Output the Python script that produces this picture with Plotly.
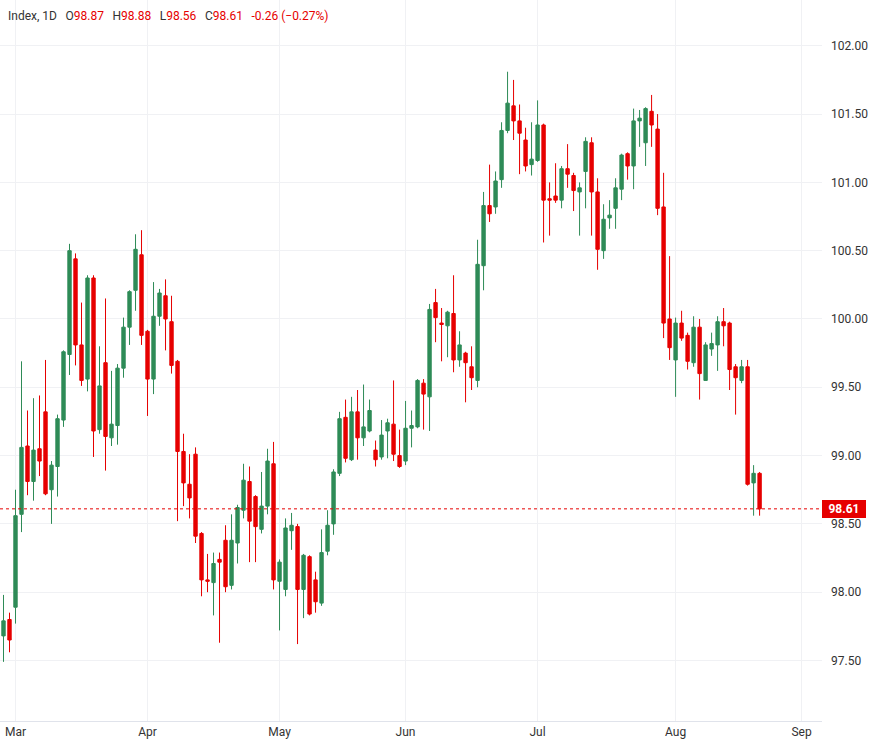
import pandas as pd
import plotly.graph_objects as go

# ---- data ----
opens = [97.68, 97.80, 97.89, 98.57, 99.07, 98.81, 99.05, 99.32, 98.75, 98.92,
         99.26, 99.74, 100.44, 99.81, 99.56, 100.30, 99.19, 99.68, 99.13, 99.22,
         99.64, 99.94, 100.21, 100.47, 99.91, 99.56, 100.02, 100.17, 99.98, 99.69,
         99.03, 98.79, 99.01, 98.43, 98.09, 98.07, 98.24, 98.38, 98.05, 98.36,
         98.60, 98.81, 98.70, 98.46, 98.63, 98.94, 98.08, 98.02, 98.45, 98.48,
         98.02, 98.26, 98.09, 97.92, 98.30, 98.50, 98.87, 99.28, 98.97, 99.32,
         99.13, 99.18, 99.04, 98.99, 99.18, 99.23, 99.00, 98.96, 99.20, 99.21,
         99.53, 99.43, 100.12, 99.97, 99.95, 100.04, 99.70, 99.75, 99.65, 99.55,
         100.39, 100.83, 100.82, 101.02, 101.38, 101.56, 101.45, 101.31, 101.13, 101.16,
         101.42, 100.88, 100.90, 100.87, 101.10, 101.05, 100.93, 101.08, 101.29, 100.93,
         100.50, 100.74, 100.81, 100.95, 101.21, 101.12, 101.45, 101.29, 101.52, 101.39,
         100.82, 100.00, 99.70, 99.97, 99.88, 99.68, 99.94, 99.55, 99.78, 99.81,
         99.98, 99.97, 99.65, 99.55, 99.65, 98.80, 98.87]
highs = [97.98, 97.85, 98.75, 99.69, 99.33, 99.42, 99.44, 99.70, 98.96, 99.30,
         99.77, 100.55, 100.48, 100.12, 100.32, 100.32, 99.80, 100.15, 99.62, 99.67,
         100.01, 100.21, 100.62, 100.65, 99.92, 100.27, 100.22, 100.29, 100.17, 99.70,
         99.16, 99.01, 99.06, 98.44, 98.28, 98.29, 98.29, 98.49, 98.57, 98.64,
         98.94, 98.92, 98.71, 98.88, 99.05, 99.10, 98.24, 98.54, 98.58, 98.50,
         98.28, 98.27, 98.15, 98.46, 98.60, 98.90, 99.32, 99.41, 99.43, 99.48,
         99.52, 99.41, 99.11, 99.26, 99.27, 99.55, 99.19, 99.40, 99.33, 99.56,
         99.56, 100.11, 100.22, 100.08, 100.06, 100.32, 99.91, 99.76, 99.80, 100.58,
         100.93, 101.13, 101.08, 101.44, 101.81, 101.75, 101.57, 101.40, 101.44, 101.60,
         101.43, 101.00, 101.14, 101.12, 101.28, 101.07, 101.00, 101.33, 101.33, 101.03,
         100.84, 100.87, 101.03, 101.21, 101.22, 101.54, 101.53, 101.55, 101.64, 101.50,
         101.07, 100.46, 100.01, 100.06, 99.90, 100.02, 100.00, 99.83, 99.90, 100.02,
         100.08, 99.98, 99.67, 99.70, 99.70, 98.93, 98.88]
lows = [97.49, 97.56, 97.77, 98.44, 98.71, 98.67, 98.85, 98.71, 98.50, 98.70,
        99.21, 99.59, 99.66, 99.51, 99.47, 98.99, 99.16, 98.89, 99.07, 99.08,
        99.57, 99.81, 100.06, 99.81, 99.29, 99.45, 99.95, 99.77, 99.60, 98.52,
        98.63, 98.54, 98.36, 97.97, 98.00, 97.83, 97.63, 98.00, 98.02, 98.21,
        98.54, 98.22, 98.22, 98.43, 98.57, 98.02, 97.72, 97.97, 98.31, 97.62,
        97.81, 97.83, 97.85, 97.90, 98.27, 98.42, 98.85, 98.95, 98.96, 98.97,
        99.07, 99.17, 98.92, 98.97, 98.98, 98.96, 98.91, 98.93, 99.06, 99.20,
        99.19, 99.18, 99.83, 99.69, 99.72, 99.61, 99.65, 99.39, 99.48, 99.50,
        100.21, 100.71, 100.77, 100.96, 101.36, 101.31, 101.06, 101.08, 101.05, 101.15,
        100.56, 100.61, 100.85, 100.81, 100.96, 100.79, 100.61, 100.81, 100.61, 100.36,
        100.44, 100.66, 100.66, 100.87, 101.02, 100.95, 101.26, 101.12, 101.26, 100.76,
        99.86, 99.70, 99.43, 99.84, 99.63, 99.65, 99.41, 99.55, 99.73, 99.62,
        99.80, 99.48, 99.30, 99.53, 98.78, 98.56, 98.56]
closes = [97.79, 97.65, 98.56, 99.06, 98.81, 99.04, 98.96, 98.72, 98.93, 99.27,
          99.76, 100.50, 99.81, 99.55, 100.30, 99.18, 99.51, 99.14, 99.23, 99.64,
          99.94, 100.20, 100.51, 99.88, 99.56, 100.02, 100.19, 100.00, 99.66, 99.03,
          98.80, 98.69, 98.41, 98.09, 98.08, 98.21, 98.22, 98.04, 98.38, 98.62,
          98.82, 98.52, 98.48, 98.63, 98.96, 98.09, 98.22, 98.47, 98.49, 98.02,
          98.27, 97.84, 97.93, 98.29, 98.49, 98.88, 99.27, 98.98, 99.32, 99.13,
          99.21, 99.33, 98.97, 99.15, 99.24, 99.01, 98.92, 99.20, 99.22, 99.55,
          99.45, 100.07, 100.01, 99.96, 100.05, 99.70, 99.81, 99.68, 99.57, 100.40,
          100.83, 100.77, 101.01, 101.38, 101.58, 101.45, 101.36, 101.12, 101.17, 101.42,
          100.87, 100.87, 100.87, 101.10, 101.06, 100.94, 100.96, 101.30, 100.93, 100.51,
          100.73, 100.76, 100.96, 101.20, 101.12, 101.45, 101.47, 101.54, 101.42, 100.81,
          99.97, 99.79, 99.97, 99.86, 99.69, 99.94, 99.60, 99.81, 99.82, 99.98,
          99.95, 99.63, 99.57, 99.65, 98.79, 98.87, 98.61]

first_session = "2026-02-26"
dates = pd.bdate_range(first_session, periods=len(closes))

month_ticks = ["2026-03-02", "2026-04-01", "2026-05-01", "2026-06-01",
               "2026-07-01", "2026-08-03", "2026-09-01"]
month_labels = ["Mar", "Apr", "May", "Jun", "Jul", "Aug", "Sep"]
price_ticks = [97.5, 98.0, 98.5, 99.0, 99.5, 100.0, 100.5, 101.0, 101.5, 102.0]

symbol_label = "Index, 1D"
change_text = "-0.26"
change_pct_text = "(\u22120.27%)"

GREEN = "#2E8B57"
RED = "#E60000"
FONT = "Roboto, 'Open Sans', sans-serif"

fig = go.Figure(go.Candlestick(
    x=dates, open=opens, high=highs, low=lows, close=closes,
    increasing=dict(line=dict(color=GREEN, width=1), fillcolor=GREEN),
    decreasing=dict(line=dict(color=RED, width=1), fillcolor=RED),
    whiskerwidth=0, hoverinfo="skip", showlegend=False,
))

last_o, last_h, last_l, last_c = opens[-1], highs[-1], lows[-1], closes[-1]

fig.add_hline(y=last_c, line=dict(color=RED, width=1, dash="dot"))

fig.add_annotation(
    xref="paper", yref="y", x=1, y=last_c, xanchor="left", yanchor="middle",
    text="<b>%.2f</b>" % last_c, showarrow=False,
    font=dict(family=FONT, size=12, color="white"),
    bgcolor=RED, bordercolor=RED, borderwidth=0, borderpad=2,
    width=40, align="center",
)

def red(s):
    return "<span style='color:%s'>%s</span>" % (RED, s)

gap = "\u2002\u2009"
header = (symbol_label + gap + "O" + red("%.2f" % last_o) + gap + "H" + red("%.2f" % last_h) +
          gap + "L" + red("%.2f" % last_l) + gap + "C" + red("%.2f" % last_c) + gap +
          red(change_text + " " + change_pct_text))
fig.add_annotation(
    xref="paper", yref="paper", x=0, y=1, xanchor="left", yanchor="top",
    xshift=6, yshift=-7, text=header, showarrow=False,
    font=dict(family=FONT, size=12, color="#333333"), align="left",
)

fig.update_layout(
    width=877, height=747,
    margin=dict(l=0, r=55, t=0, b=26),
    paper_bgcolor="white", plot_bgcolor="white",
    font=dict(family=FONT, size=12, color="#333333"),
    boxgap=0.2,
    xaxis=dict(
        type="date", rangeslider=dict(visible=False),
        rangebreaks=[dict(bounds=["sat", "mon"])],
        range=["2026-02-25 10:00", "2026-09-04 09:36"],
        tickvals=month_ticks, ticktext=month_labels,
        showgrid=True, gridcolor="#f0f1f4", gridwidth=1,
        showline=True, linecolor="#e0e3eb", linewidth=1,
        ticks="", zeroline=False, fixedrange=True,
        tickfont=dict(family=FONT, size=12, color="#333333"),
    ),
    yaxis=dict(
        side="right", range=[97.057, 102.335],
        tickvals=price_ticks, tickformat=".2f",
        showgrid=True, gridcolor="#f0f1f4", gridwidth=1,
        showline=False, ticks="", zeroline=False,
        ticklabelstandoff=8,
        tickfont=dict(family=FONT, size=12, color="#333333"),
    ),
)

fig.write_html(
    "out.html",
    config={"displayModeBar": False},
    post_script="document.body.style.margin='0';document.body.style.padding='0';"
                "document.body.style.overflow='hidden';",
)
